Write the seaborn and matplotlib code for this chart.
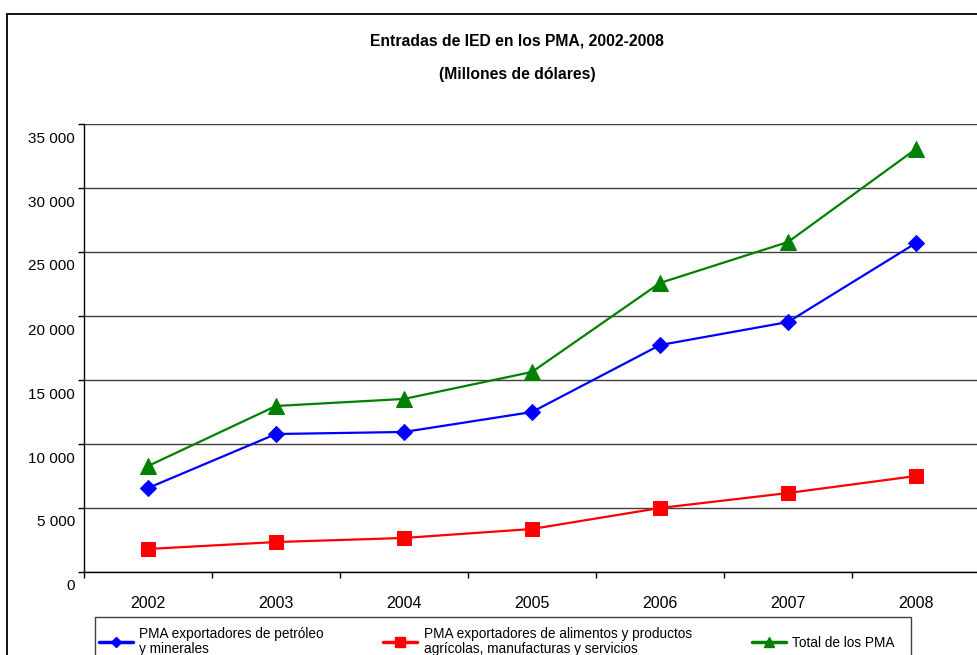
import matplotlib
matplotlib.use("Agg")
import matplotlib.pyplot as plt
from matplotlib.patches import Rectangle
from matplotlib.ticker import FuncFormatter, FixedLocator
from matplotlib.transforms import ScaledTranslation
from matplotlib.lines import Line2D
import seaborn as sns
import pandas as pd

years = ["2002", "2003", "2004", "2005", "2006", "2007", "2008"]
petroleo = [6560, 10780, 10940, 12500, 17730, 19530, 25700]
alimentos = [1800, 2340, 2660, 3360, 5000, 6170, 7500]
total = [8280, 12970, 13520, 15630, 22580, 25780, 33050]

names = ["PMA exportadores de petróleo\ny minerales",
         "PMA exportadores de alimentos y productos\nagrícolas, manufacturas y servicios",
         "Total de los PMA"]
colors = ["#0000FF", "#FF0000", "#008000"]
markers = ["D", "s", "^"]
msizes = [8, 10, 11]

title = "Entradas de IED en los PMA, 2002-2008"
subtitle = "(Millones de dólares)"
yticks = [0, 5000, 10000, 15000, 20000, 25000, 30000, 35000]

sns.set_theme(style="white")
plt.rcParams["font.family"] = ["Liberation Sans", "DejaVu Sans"]
plt.rcParams["text.color"] = "black"
plt.rcParams["xtick.color"] = "black"
plt.rcParams["ytick.color"] = "black"
plt.rcParams["axes.labelcolor"] = "black"

W, H = 977, 655
fig = plt.figure(figsize=(W / 100, H / 100), dpi=100)
ax = fig.add_axes([84 / W, 1 - 572 / H, (980 - 84) / W, (572 - 124) / H])

x = list(range(len(years)))
for vals, name, c, m, ms in zip([petroleo, alimentos, total], names, colors, markers, msizes):
    df = pd.DataFrame({"x": x, "y": vals})
    sns.lineplot(data=df, x="x", y="y", ax=ax, color=c, marker=m, markersize=ms,
                 markeredgecolor=c, linewidth=1.6, label=name, legend=False)

ax.set_xlim(-0.5, len(years) - 0.5)
ax.set_ylim(0, 35000)
ax.set_xlabel("")
ax.set_ylabel("")

ax.set_yticks(yticks)
ax.yaxis.set_major_formatter(FuncFormatter(lambda v, p: f"{int(v):,}".replace(",", " ")))
ax.set_xticks(x)
ax.set_xticklabels(years)
ax.xaxis.set_minor_locator(FixedLocator([i - 0.5 for i in range(len(years) + 1)]))

ax.grid(axis="y", color="#404040", linewidth=1)
ax.grid(axis="x", visible=False)
ax.set_axisbelow(True)

ax.tick_params(axis="y", which="major", direction="out", length=4, width=1, color="black",
               labelsize=11, pad=2.5, left=True, labelcolor="black")
ax.tick_params(axis="x", which="major", length=0, labelsize=11.5, pad=17, labelcolor="black")
ax.tick_params(axis="x", which="minor", direction="out", length=4, width=1, color="black", bottom=True)

for s in ["top", "right"]:
    ax.spines[s].set_visible(False)
for s in ["left", "bottom"]:
    ax.spines[s].set_color("black")
    ax.spines[s].set_linewidth(1)

off = ScaledTranslation(0, -13 / 100, fig.dpi_scale_trans)
for lab in ax.get_yticklabels():
    lab.set_transform(lab.get_transform() + off)

fig.text(517 / W, 1 - 41 / H, title, ha="center", va="center", fontsize=11.3, fontweight="bold",
         color="black")
fig.text(517 / W, 1 - 75 / H, subtitle, ha="center", va="center", fontsize=11.3, fontweight="bold",
         color="black")

# outer chart border
fig.patches.append(Rectangle((7 / W, -0.1), 2, 1 - 14 / H + 0.1, transform=fig.transFigure,
                             fill=False, edgecolor="black", linewidth=1.3))

handles = [Line2D([], [], color=c, marker=m, markersize=ms * 0.7, linewidth=2.5)
           for c, m, ms in zip(colors, markers, msizes)]
leg = fig.legend(handles, names, loc="upper left", bbox_to_anchor=(96 / W, 1 - 624 / H),
                 ncol=3, frameon=False, fontsize=9.8, handlelength=2.5, handletextpad=0.45,
                 columnspacing=4.4, borderpad=0.2, borderaxespad=0, labelspacing=0.2)
for t in leg.get_texts():
    t.set_linespacing(1.15)
    t.set_color("black")
fig.patches.append(Rectangle((95 / W, -0.1), (911 - 95) / W, 0.1 + 1 - 617 / H,
                             transform=fig.transFigure, fill=False, edgecolor="#404040",
                             linewidth=1))

fig.savefig("out.png", dpi=100)
